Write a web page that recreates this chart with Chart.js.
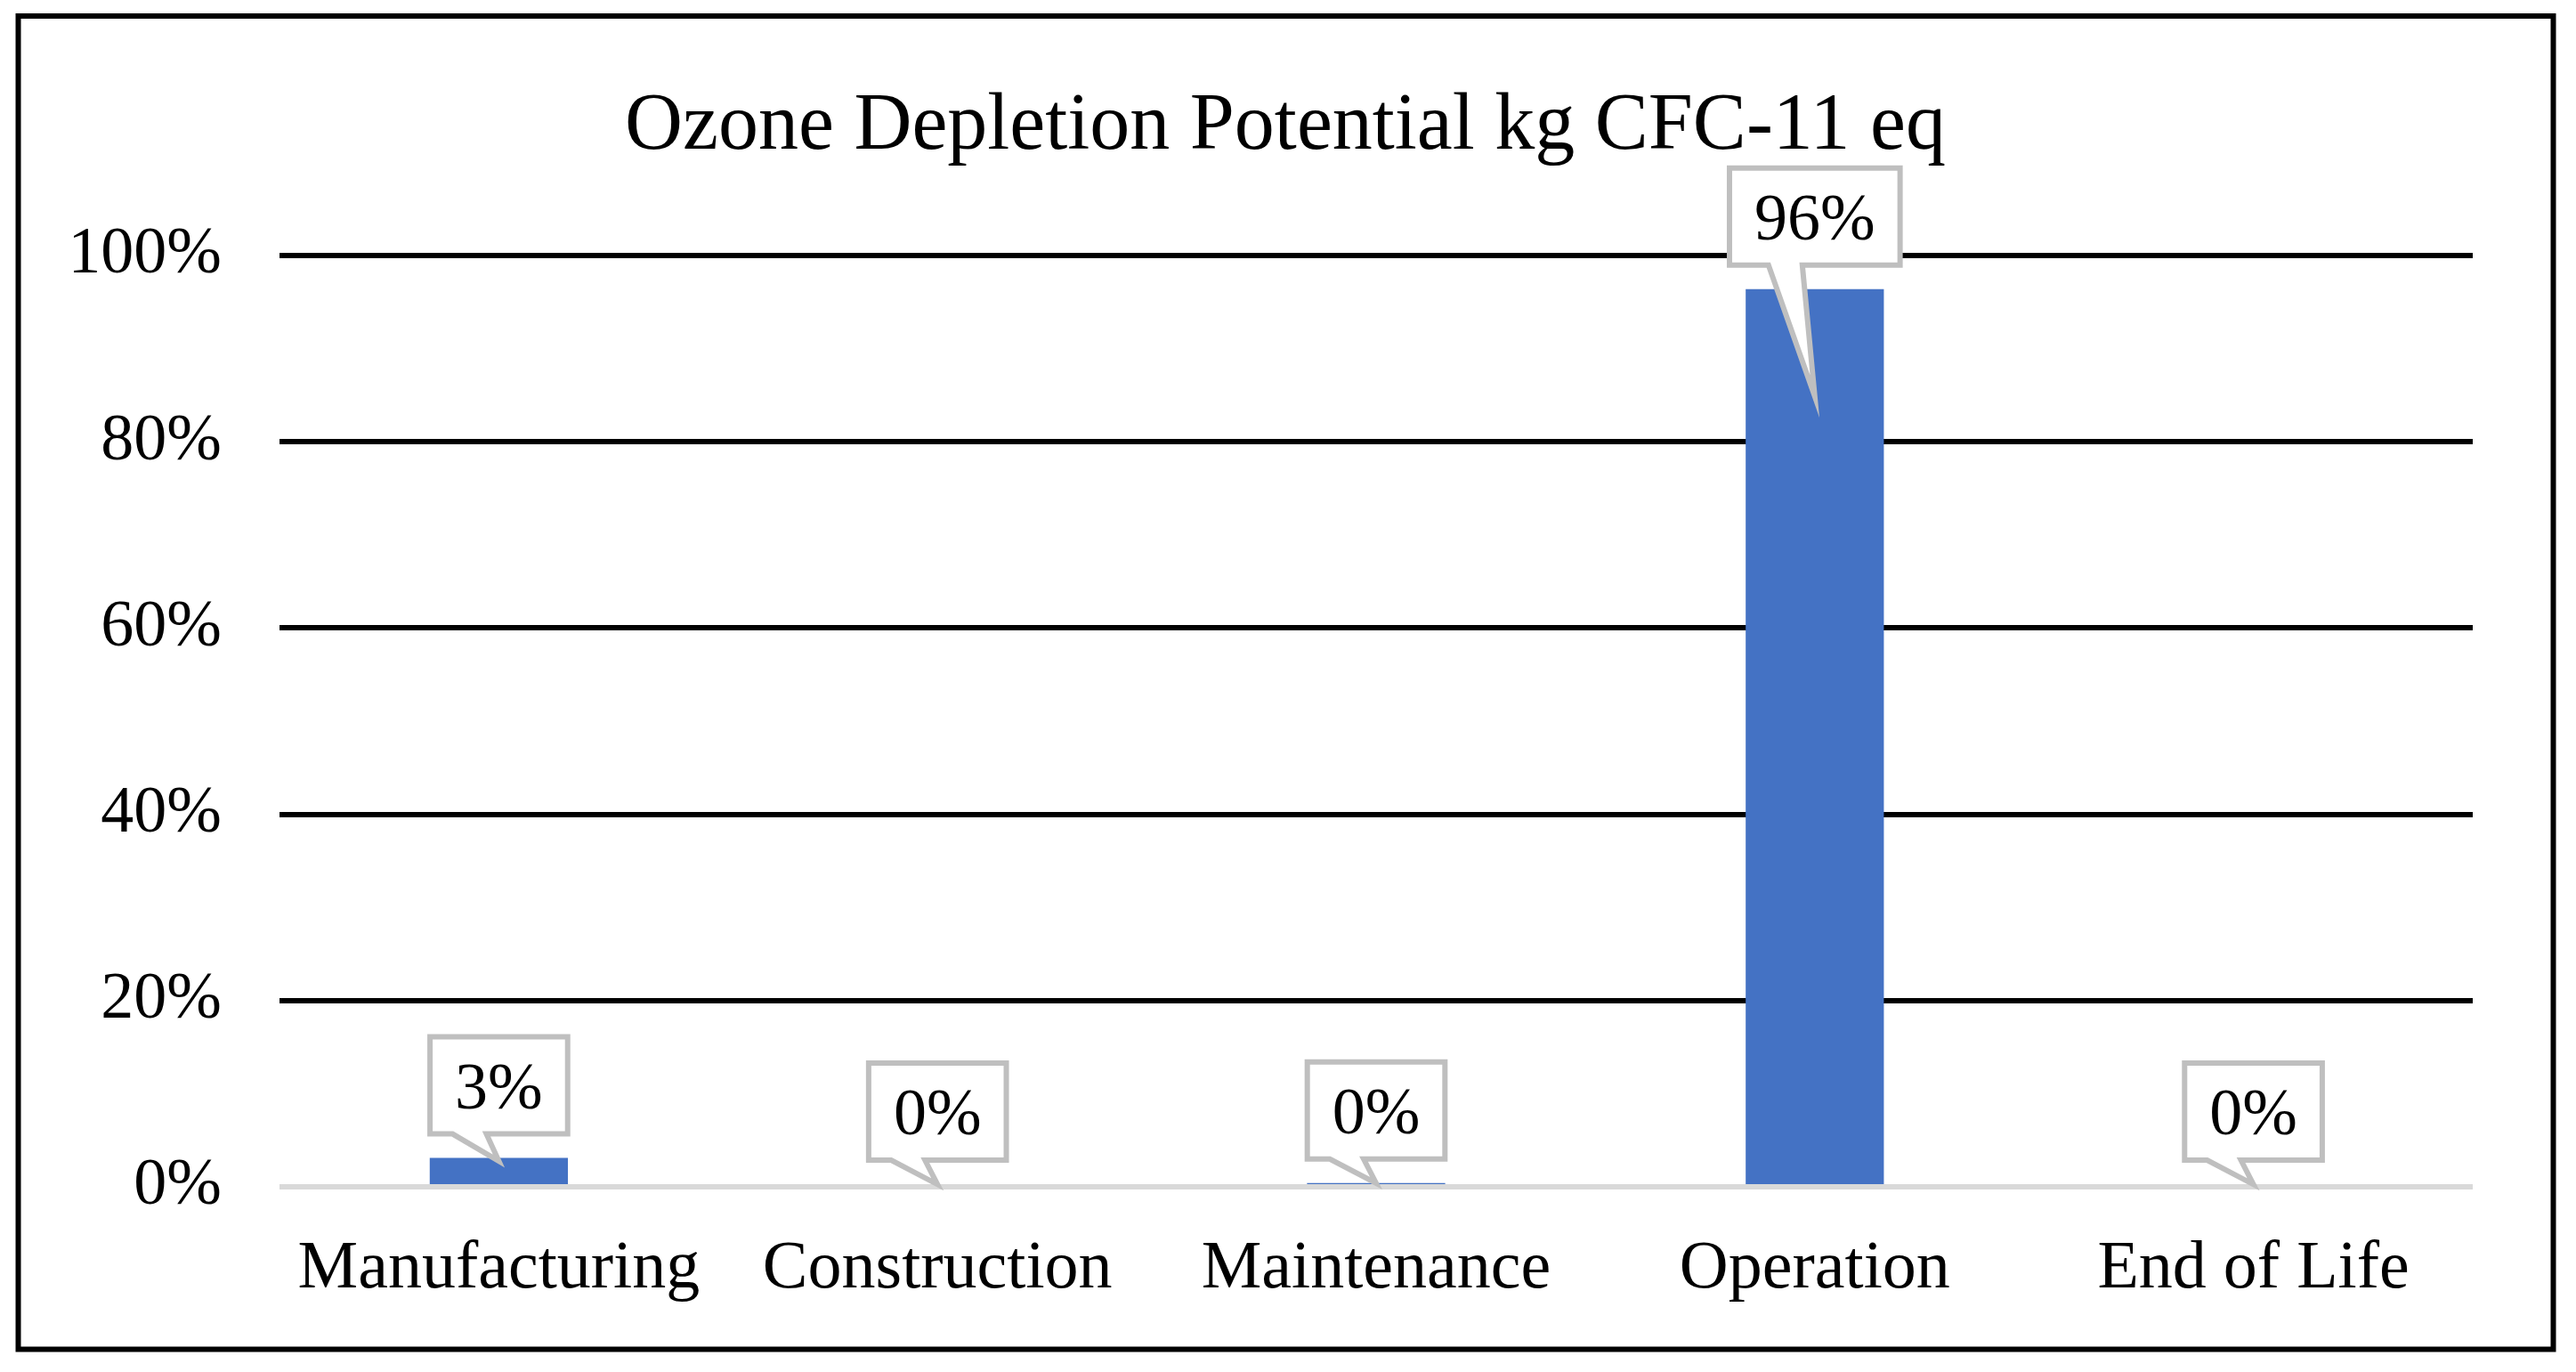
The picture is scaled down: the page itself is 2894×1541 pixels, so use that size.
<!DOCTYPE html>
<html>
<head>
<meta charset="utf-8">
<script src="https://cdn.jsdelivr.net/npm/chart.js@4.4.0/dist/chart.umd.min.js"></script>
<style>
  html, body { margin: 0; padding: 0; background: #fff; overflow: hidden; }
  canvas { display: block; }
</style>
</head>
<body>
<canvas id="c" width="2894" height="1541" style="width:2894px;height:1541px"></canvas>
<script>
const chartTitle = 'Ozone Depletion Potential kg CFC-11 eq';
const categories = ['Manufacturing', 'Construction', 'Maintenance', 'Operation', 'End of Life'];
const shares = [3.1, 0.05, 0.4, 96.4, 0.05];
const yTicks = [0, 20, 40, 60, 80, 100];

const FONT = "'Times New Roman', 'Liberation Serif', serif";

const framePlugin = {
  id: 'frame',
  beforeDraw(chart) {
    const ctx = chart.ctx;
    ctx.save();
    ctx.fillStyle = '#ffffff';
    ctx.fillRect(0, 0, chart.width, chart.height);
    ctx.restore();
  },
  afterDraw(chart) {
    const ctx = chart.ctx;
    ctx.save();
    // chart title, centred on the whole frame
    const tb = chart.titleBlock;
    const ty = (tb ? tb.top : 0) + 89 + 54;
    ctx.font = '90px ' + FONT;
    ctx.fillStyle = '#000000';
    ctx.textAlign = 'center';
    ctx.textBaseline = 'middle';
    ctx.fillText(chartTitle, 1444, ty);
    // outer frame
    ctx.strokeStyle = '#000000';
    ctx.lineWidth = 6;
    ctx.strokeRect(20.5, 18, 2848, 1497.5);
    ctx.restore();
  }
};

const calloutPlugin = {
  id: 'callouts',
  afterDatasetsDraw(chart) {
    const ctx = chart.ctx;
    const area = chart.chartArea;
    const y0 = chart.scales.y.getPixelForValue(0);
    // axis (zero) line drawn over bars
    ctx.save();
    ctx.strokeStyle = '#d9d9d9';
    ctx.lineWidth = 6;
    ctx.beginPath();
    ctx.moveTo(area.left, y0);
    ctx.lineTo(area.right, y0);
    ctx.stroke();
    ctx.restore();

    const meta = chart.getDatasetMeta(0);
    ctx.save();
    ctx.font = '74px ' + FONT;
    meta.data.forEach((bar, i) => {
      const v = shares[i];
      const text = Math.round(v) + '%';
      const cx = bar.x;
      const top = Math.min(bar.y, bar.base);
      const base = Math.max(bar.y, bar.base);
      const tw = ctx.measureText(text).width;
      const w = tw + 56;
      const h = 109;
      const bottom = top - 27;
      const boxTop = bottom - h;
      const left = cx - w / 2;
      const right = cx + w / 2;
      const tipY = top + 0.12 * (base - top);
      ctx.beginPath();
      ctx.moveTo(left, boxTop);
      ctx.lineTo(right, boxTop);
      ctx.lineTo(right, bottom);
      ctx.lineTo(cx - 14, bottom);
      ctx.lineTo(cx, tipY);
      ctx.lineTo(cx - 52, bottom);
      ctx.lineTo(left, bottom);
      ctx.closePath();
      ctx.fillStyle = '#ffffff';
      ctx.fill();
      ctx.lineWidth = 6;
      ctx.lineJoin = 'miter';
      ctx.strokeStyle = '#bfbfbf';
      ctx.stroke();
      ctx.fillStyle = '#000000';
      ctx.textAlign = 'center';
      ctx.textBaseline = 'middle';
      ctx.fillText(text, cx, boxTop + h / 2 + 6);
    });
    ctx.restore();
  }
};

new Chart(document.getElementById('c'), {
  type: 'bar',
  data: {
    labels: categories,
    datasets: [{
      data: shares,
      backgroundColor: '#4472c4',
      borderWidth: 0,
      categoryPercentage: 1,
      barPercentage: 0.315
    }]
  },
  options: {
    responsive: false,
    animation: false,
    devicePixelRatio: 1,
    layout: { padding: { left: 83, right: 116, top: 0, bottom: 70 } },
    plugins: {
      legend: { display: false },
      tooltip: { enabled: false },
      title: {
        display: true,
        text: chartTitle,
        color: 'rgba(0,0,0,0)',
        font: { family: FONT, size: 90, weight: 'normal', lineHeight: 1.2 },
        padding: { top: 89, bottom: 90 }
      }
    },
    scales: {
      x: {
        grid: { display: false, drawTicks: false },
        border: { display: false },
        ticks: {
          color: '#000000',
          font: { family: FONT, size: 76 },
          padding: 47,
          maxRotation: 0,
          autoSkip: false
        },
        afterFit(s) { s.height = 138; }
      },
      y: {
        min: 0,
        max: 100,
        afterBuildTicks(s) { s.ticks = yTicks.map(v => ({ value: v })); },
        grid: {
          drawTicks: false,
          lineWidth: 6,
          color: (c) => (c.tick && c.tick.value === 0) ? 'rgba(0,0,0,0)' : '#000000'
        },
        border: { display: false },
        ticks: {
          color: '#000000',
          font: { family: FONT, size: 74 },
          padding: 65,
          callback: (v) => v + '%'
        },
        afterFit(s) { s.width = 231; }
      }
    }
  },
  plugins: [framePlugin, calloutPlugin]
});
</script>
</body>
</html>
